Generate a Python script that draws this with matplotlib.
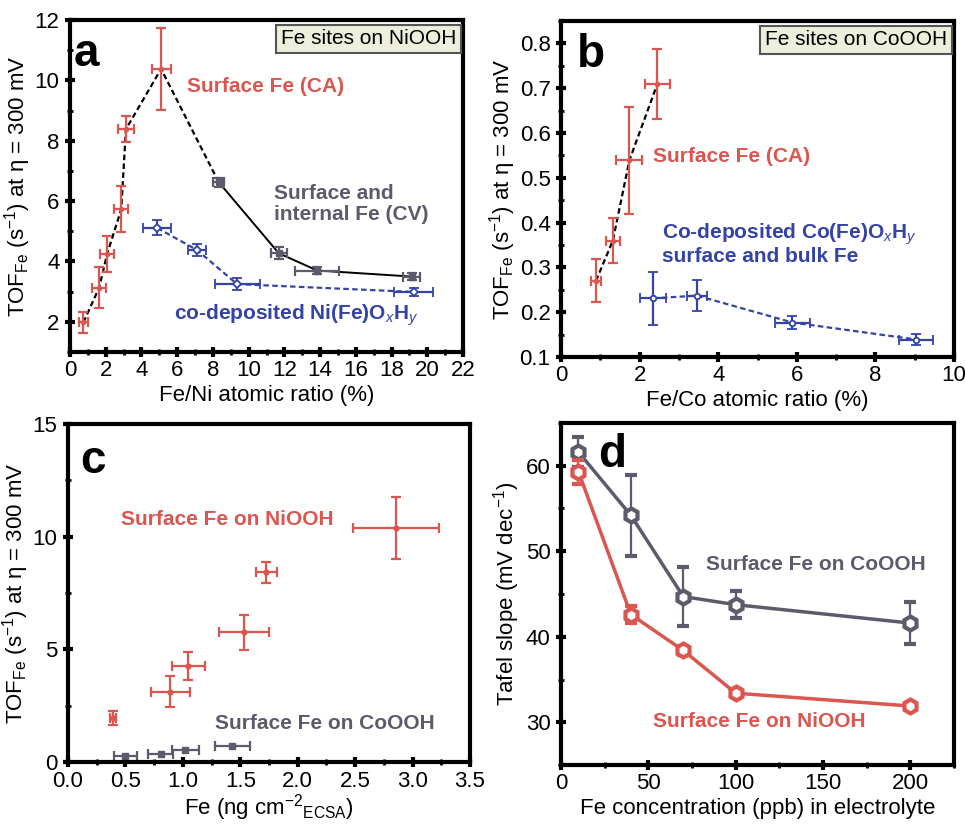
import numpy as np
import matplotlib
matplotlib.use('Agg')
import matplotlib.pyplot as plt
from matplotlib.ticker import MultipleLocator

plt.rcParams['font.family'] = ['Liberation Sans', 'DejaVu Sans']
plt.rcParams['mathtext.fontset'] = 'custom'
plt.rcParams['mathtext.rm'] = 'Liberation Sans'
plt.rcParams['mathtext.it'] = 'Liberation Sans:italic'
plt.rcParams['mathtext.bf'] = 'Liberation Sans:bold'

RED = '#DA564E'
BLUE = '#3343A6'
GRAY = '#5B5B6B'

# ---- panel a : Fe sites on NiOOH ----
a_red_x = [0.75, 1.63, 2.08, 2.87, 3.13, 5.1]
a_red_y = [1.98, 3.13, 4.25, 5.73, 8.38, 10.38]
a_red_xerr = [0.27, 0.38, 0.39, 0.4, 0.47, 0.53]
a_red_yerr = [0.35, 0.67, 0.59, 0.77, 0.43, 1.37]

a_gray_x = [8.32, 11.69, 13.84, 19.12]
a_gray_y = [6.63, 4.27, 3.70, 3.50]
a_gray_xerr = [0.3, 0.45, 1.22, 0.5]
a_gray_yerr = [0.15, 0.2, 0.12, 0.12]

a_blue_x = [4.88, 7.11, 9.35, 19.23]
a_blue_y = [5.11, 4.38, 3.25, 2.99]
a_blue_xerr = [0.78, 0.52, 1.26, 1.08]
a_blue_yerr = [0.25, 0.2, 0.2, 0.12]

# ---- panel b : Fe sites on CoOOH ----
b_red_x = [0.89, 1.32, 1.74, 2.45]
b_red_y = [0.270, 0.360, 0.539, 0.709]
b_red_xerr = [0.13, 0.17, 0.33, 0.32]
b_red_yerr = [0.048, 0.05, 0.119, 0.078]

b_blue_x = [2.34, 3.46, 5.89, 9.04]
b_blue_y = [0.231, 0.237, 0.177, 0.139]
b_blue_xerr = [0.33, 0.25, 0.44, 0.43]
b_blue_yerr = [0.059, 0.035, 0.015, 0.013]

# ---- panel c : TOF vs Fe loading ----
c_red_x = [0.392, 0.889, 1.049, 1.533, 1.728, 2.854]
c_red_y = [1.96, 3.12, 4.27, 5.75, 8.41, 10.37]
c_red_xerr = [0.03, 0.17, 0.145, 0.22, 0.095, 0.375]
c_red_yerr = [0.3, 0.68, 0.61, 0.78, 0.45, 1.38]

c_gray_x = [0.50, 0.807, 1.023, 1.432]
c_gray_y = [0.25, 0.35, 0.54, 0.69]
c_gray_xerr = [0.1, 0.108, 0.117, 0.15]

# ---- panel d : Tafel slope ----
d_x = [10, 40, 70, 100, 200]
d_co_y = [61.6, 54.2, 44.7, 43.75, 41.6]
d_co_err = [1.8, 4.7, 3.5, 1.6, 2.5]
d_ni_y = [59.3, 42.6, 38.4, 33.4, 31.9]
d_ni_err = [1.4, 1.0, 0.5, 0.5, 0.4]

W, H = 965, 824
fig = plt.figure(figsize=(W / 100, H / 100), dpi=100)

FS = 16    # tick / axis label size
AFS = 15   # annotation size


def px_axes(l, r, t, b):
    return fig.add_axes([l / W, 1 - b / H, (r - l) / W, (b - t) / H])


def style(ax):
    for s in ax.spines.values():
        s.set_linewidth(3)
    ax.tick_params(which='major', direction='inout', length=7, width=3, labelsize=FS, pad=2)
    ax.tick_params(which='minor', direction='inout', length=5, width=2)
    ax.tick_params(axis='y', which='major', pad=4)


eb = dict(elinewidth=1.6, capsize=3.5, capthick=1.6, linestyle='none')
box = dict(boxstyle='square,pad=0.22', fc='#EEEEDC', ec='#555555', lw=1.5)

# panel a
ax = px_axes(70, 463, 20, 352)
ax.plot(a_red_x + a_gray_x[:1], a_red_y + a_gray_y[:1], ls=(0, (2.5, 1.5)), color='k', lw=1.6, zorder=1)
ax.plot(a_gray_x, a_gray_y, '-', color='k', lw=1.4, zorder=1)
ax.plot(a_blue_x, a_blue_y, ls=(0, (2.5, 1.5)), color=BLUE, lw=1.6, zorder=1)
ax.errorbar(a_red_x, a_red_y, xerr=a_red_xerr, yerr=a_red_yerr, color=RED, marker='o', ms=3, **eb)
ax.errorbar(a_gray_x, a_gray_y, xerr=a_gray_xerr, yerr=a_gray_yerr, color=GRAY, marker='s', ms=4, **eb)
ax.errorbar(a_blue_x, a_blue_y, xerr=a_blue_xerr, yerr=a_blue_yerr, color=BLUE, marker='D', ms=4,
            mfc='white', mew=1.3, **eb)
ax.set_xlim(0, 22)
ax.set_ylim(1, 12)
ax.xaxis.set_major_locator(MultipleLocator(2))
ax.xaxis.set_minor_locator(MultipleLocator(1))
ax.yaxis.set_major_locator(MultipleLocator(2))
ax.yaxis.set_minor_locator(MultipleLocator(1))
style(ax)
ax.set_xlabel('Fe/Ni atomic ratio (%)', fontsize=FS, labelpad=3)
ax.set_ylabel('TOF$_\\mathrm{Fe}$ (s$^{-1}$) at η = 300 mV', fontsize=FS, labelpad=1)
ax.text(0.008, 0.965, 'a', transform=ax.transAxes, fontsize=33, fontweight='bold', va='top', ha='left')
ax.text(0.982, 0.972, 'Fe sites on NiOOH', transform=ax.transAxes, fontsize=AFS, ha='right', va='top',
        bbox=box)
ax.text(6.55, 9.8, 'Surface Fe (CA)', color=RED, fontsize=AFS, fontweight='bold', va='center')
ax.text(11.4, 5.9, 'Surface and\ninternal Fe (CV)', color=GRAY, fontsize=AFS, fontweight='bold',
        va='center', linespacing=1.1)
ax.text(5.84, 2.23, 'co-deposited Ni(Fe)O$_\\mathit{x}$H$_\\mathit{y}$', color=BLUE, fontsize=AFS,
        fontweight='bold', va='center')

# panel b
ax = px_axes(561, 954, 21, 357)
ax.plot(b_red_x, b_red_y, ls=(0, (2.5, 1.5)), color='k', lw=1.6, zorder=1)
ax.plot(b_blue_x, b_blue_y, ls=(0, (2.5, 1.5)), color=BLUE, lw=1.6, zorder=1)
ax.errorbar(b_red_x, b_red_y, xerr=b_red_xerr, yerr=b_red_yerr, color=RED, marker='o', ms=3, **eb)
ax.errorbar(b_blue_x, b_blue_y, xerr=b_blue_xerr, yerr=b_blue_yerr, color=BLUE, marker='o', ms=4,
            mfc='white', mew=1.3, **eb)
ax.set_xlim(0, 10)
ax.set_ylim(0.1, 0.85)
ax.xaxis.set_major_locator(MultipleLocator(2))
ax.xaxis.set_minor_locator(MultipleLocator(1))
ax.yaxis.set_major_locator(MultipleLocator(0.1))
ax.yaxis.set_minor_locator(MultipleLocator(0.05))
style(ax)
ax.set_xlabel('Fe/Co atomic ratio (%)', fontsize=FS, labelpad=3)
ax.set_ylabel('TOF$_\\mathrm{Fe}$ (s$^{-1}$) at η = 300 mV', fontsize=FS, labelpad=1)
ax.text(0.04, 0.965, 'b', transform=ax.transAxes, fontsize=33, fontweight='bold', va='top', ha='left')
ax.text(0.982, 0.972, 'Fe sites on CoOOH', transform=ax.transAxes, fontsize=AFS, ha='right', va='top',
        bbox=box)
ax.text(2.34, 0.548, 'Surface Fe (CA)', color=RED, fontsize=AFS, fontweight='bold', va='center')
ax.text(2.57, 0.353, 'Co-deposited Co(Fe)O$_\\mathit{x}$H$_\\mathit{y}$\nsurface and bulk Fe', color=BLUE,
        fontsize=AFS, fontweight='bold', va='center', linespacing=1.05)

# panel c
ax = px_axes(68, 470, 424, 762)
ax.errorbar(c_red_x, c_red_y, xerr=c_red_xerr, yerr=c_red_yerr, color=RED, marker='o', ms=3.5, **eb)
ax.errorbar(c_gray_x, c_gray_y, xerr=c_gray_xerr, color=GRAY, marker='s', ms=5, **eb)
ax.set_xlim(0, 3.5)
ax.set_ylim(0, 15)
ax.xaxis.set_major_locator(MultipleLocator(0.5))
ax.xaxis.set_minor_locator(MultipleLocator(0.25))
ax.yaxis.set_major_locator(MultipleLocator(5))
ax.yaxis.set_minor_locator(MultipleLocator(2.5))
style(ax)
ax.tick_params(axis='x', which='major', pad=3)
ax.set_xlabel('Fe (ng cm$^{-2}$$_\\mathrm{ECSA}$)', fontsize=FS, labelpad=0)
ax.set_ylabel('TOF$_\\mathrm{Fe}$ (s$^{-1}$) at η = 300 mV', fontsize=FS, labelpad=1)
ax.text(0.03, 0.955, 'c', transform=ax.transAxes, fontsize=33, fontweight='bold', va='top', ha='left')
ax.text(0.465, 10.77, 'Surface Fe on NiOOH', color=RED, fontsize=AFS, fontweight='bold', va='center')
ax.text(1.276, 1.73, 'Surface Fe on CoOOH', color=GRAY, fontsize=AFS, fontweight='bold', va='center')

# panel d
ax = px_axes(561, 954, 423, 765)
ax.errorbar(d_x, d_co_y, yerr=d_co_err, color=GRAY, marker='h', ms=10, mfc='white', mew=3,
            lw=2.5, elinewidth=1.6, capsize=4, capthick=1.6, zorder=2)
ax.errorbar(d_x, d_ni_y, yerr=d_ni_err, color=RED, marker='h', ms=10, mfc='white', mew=3,
            lw=2.5, elinewidth=1.6, capsize=4, capthick=1.6, zorder=3)
ax.set_xlim(0, 225)
ax.set_ylim(25, 65)
ax.xaxis.set_major_locator(MultipleLocator(50))
ax.xaxis.set_minor_locator(MultipleLocator(25))
ax.yaxis.set_major_locator(MultipleLocator(10))
ax.yaxis.set_minor_locator(MultipleLocator(5))
style(ax)
ax.set_xlabel('Fe concentration (ppb) in electrolyte', fontsize=FS, labelpad=3)
ax.set_ylabel('Tafel slope (mV dec$^{-1}$)', fontsize=FS, labelpad=3)
ax.text(0.095, 0.97, 'd', transform=ax.transAxes, fontsize=33, fontweight='bold', va='top', ha='left')
ax.text(82.8, 48.4, 'Surface Fe on CoOOH', color=GRAY, fontsize=AFS, fontweight='bold', va='center')
ax.text(52.5, 30.1, 'Surface Fe on NiOOH', color=RED, fontsize=AFS, fontweight='bold', va='center')

fig.savefig('out.png', dpi=100)
